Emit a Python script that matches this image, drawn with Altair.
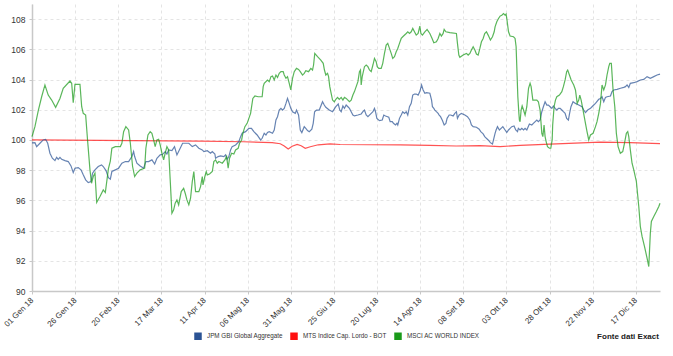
import altair as alt
import pandas as pd

series_names = ["JPM GBI Global Aggregate", "MTS Indice Cap. Lordo - BOT", "MSCI AC WORLD INDEX"]
series_colors = ["#2b5394", "#ff1010", "#1a9a1a"]
month_names = ["Gen", "Feb", "Mar", "Apr", "Mag", "Giu", "Lug", "Ago", "Set", "Ott", "Nov", "Dic"]
tick_dates = ["2018-01-01", "2018-01-26", "2018-02-20", "2018-03-17", "2018-04-11", "2018-05-06",
              "2018-05-31", "2018-06-25", "2018-07-20", "2018-08-14", "2018-09-08", "2018-10-03",
              "2018-10-28", "2018-11-22", "2018-12-17"]
y_ticks = [90, 92, 94, 96, 98, 100, 102, 104, 106, 108]
source_note = "Fonte dati Exact"

# day offsets from 01 Jan 2018 and index values
jpm_day = [0, 1.7, 2.7, 4.6, 6.5, 7.9, 9.1, 10.4, 11.8, 13.3, 14.3, 15.2, 16.2, 17.2, 19.1, 21.0, 22.6, 23.9, 24.9, 26.8,
           28.4, 29.7, 31.1, 32.6, 34.2, 35.1, 36.5, 38.4, 40.3, 41.3, 42.9, 44.3, 45.4, 46.3, 48.3, 50.2, 52.1, 54.1,
           56.0, 57.9, 58.9, 59.5, 60.8, 62.7, 64.7, 66.0, 67.6, 69.5, 71.1, 72.4, 74.3, 75.7, 77.2, 78.2, 79.2, 81.1,
           82.6, 84.0, 85.9, 87.3, 89.8, 90.9, 92.9, 94.8, 96.7, 98.7, 99.6, 101.6, 103.5, 104.5, 106.0, 106.4, 107.9,
           109.3, 111.2, 112.2, 113.1, 114.1, 115.1, 116.0, 118.0, 119.9, 120.9, 121.8, 123.8, 125.7, 127.2, 128.6,
           130.5, 132.5, 133.4, 134.6, 135.6, 136.5, 137.5, 139.4, 140.4, 141.4, 142.3, 143.3, 144.3, 145.2, 146.2,
           147.2, 148.1, 149.1, 150.0, 151.0, 152.6, 153.3, 154.5, 155.5, 156.4, 157.8, 158.7, 159.7, 160.7, 162.2,
           163.0, 163.8, 164.9, 166.5, 168.4, 169.4, 170.3, 172.3, 174.2, 176.1, 177.5, 178.4, 179.2, 180.2, 181.1,
           182.1, 183.1, 184.0, 185.0, 186.0, 186.9, 188.9, 190.8, 191.8, 192.7, 193.7, 194.7, 196.6, 197.6, 198.5,
           199.1, 199.9, 201.4, 203.0, 203.9, 204.9, 206.8, 207.6, 208.8, 209.5, 210.7, 211.5, 212.0, 213.0, 214.0,
           214.9, 215.9, 216.9, 217.8, 218.8, 219.8, 220.7, 221.7, 222.7, 223.8, 224.8, 225.8, 226.7, 227.7, 228.7,
           230.6, 231.6, 232.1, 232.9, 233.5, 234.4, 235.4, 236.0, 236.8, 237.9, 238.9, 239.9, 240.6, 241.8, 242.6,
           244.1, 245.1, 246.0, 246.6, 247.6, 248.9, 250.9, 252.4, 253.8, 254.7, 255.7, 257.6, 259.2, 260.1, 261.5,
           262.4, 264.4, 265.7, 266.9, 267.7, 268.4, 269.0, 269.8, 270.9, 271.9, 272.9, 274.2, 275.2, 276.2, 277.1,
           278.1, 279.4, 280.4, 281.4, 281.9, 282.9, 283.9, 284.9, 285.8, 286.8, 287.8, 288.3, 289.7, 290.6, 292.6,
           293.5, 294.5, 295.5, 296.4, 297.4, 298.4, 299.3, 300.3, 301.3, 302.2, 303.2, 304.2, 305.1, 306.1, 307.1,
           308.0, 309.0, 309.9, 310.9, 311.6, 312.4, 313.6, 315.0, 316.9, 318.8, 319.8, 320.8, 322.1, 323.7, 324.6,
           325.6, 326.6, 328.5, 329.5, 330.4, 331.4, 332.4, 333.3, 335.3, 336.2, 337.2, 339.1, 341.1, 343.0, 344.0,
           344.9, 345.9, 346.8, 348.8, 350.7, 352.6, 354.6, 356.5, 358.4, 360.4, 362.3, 364.0]
jpm_val = [99.8, 99.82, 99.56, 99.78, 100.0, 100.04, 99.78, 99.12, 98.79, 98.63, 98.85, 98.72, 98.85, 98.72, 98.63,
           98.57, 98.28, 97.84, 98.13, 98.17, 98.02, 97.69, 97.36, 97.18, 97.24, 97.80, 98.02, 98.24, 98.35, 98.24,
           97.97, 97.5, 97.4, 97.91, 98.02, 98.13, 98.46, 98.57, 98.57, 98.90, 99.23, 98.90, 98.46, 98.28, 98.13,
           98.57, 98.57, 98.68, 98.41, 98.79, 99.01, 99.05, 99.23, 99.07, 99.34, 99.29, 99.56, 99.01, 99.45, 99.78,
           99.78, 99.78, 99.56, 99.67, 99.45, 99.34, 99.23, 99.29, 99.12, 99.23, 99.07, 98.79, 98.90, 98.94, 98.90,
           99.01, 98.72, 98.90, 99.34, 99.56, 99.67, 99.89, 100.22, 100.44, 100.55, 100.77, 100.77, 100.55, 100.33,
           100.0, 100.11, 100.44, 100.33, 100.49, 100.55, 100.44, 100.66, 101.32, 101.54, 101.98, 102.09, 101.98,
           102.09, 102.42, 102.75, 102.42, 102.09, 101.87, 101.76, 101.98, 101.65, 100.66, 100.49, 100.88, 100.77,
           100.62, 100.55, 100.71, 101.10, 101.87, 101.98, 101.98, 102.53, 102.31, 102.16, 101.98, 101.87, 102.20,
           102.38, 101.98, 101.87, 102.25, 102.09, 102.31, 102.20, 102.09, 101.87, 101.65, 101.59, 101.65, 101.72,
           101.87, 101.98, 101.65, 101.54, 101.76, 101.87, 102.09, 101.87, 101.43, 101.28, 101.32, 101.65, 101.59,
           101.50, 101.21, 101.21, 101.10, 100.99, 101.10, 100.99, 101.43, 101.65, 101.87, 101.76, 101.87, 101.65,
           102.20, 102.42, 102.97, 103.04, 103.04, 102.97, 103.20, 103.64, 103.31, 103.09, 103.13, 103.09, 102.64,
           102.20, 102.09, 101.98, 101.87, 101.76, 101.65, 101.54, 101.28, 100.99, 101.10, 101.43, 101.65, 101.65,
           101.59, 101.76, 101.87, 101.43, 101.65, 101.76, 101.65, 101.54, 101.32, 100.99, 100.88, 100.84, 100.71,
           100.55, 100.40, 100.22, 100.0, 99.82, 99.73, 100.11, 100.44, 100.66, 100.88, 100.66, 100.77, 100.88,
           100.66, 100.49, 100.66, 100.77, 100.88, 100.93, 100.66, 100.55, 100.77, 100.66, 100.77, 100.66, 100.77,
           100.66, 100.93, 101.06, 100.99, 101.10, 101.32, 101.21, 101.32, 101.87, 102.20, 102.53, 102.31, 102.31,
           102.20, 102.09, 102.25, 102.09, 101.98, 102.09, 102.09, 101.98, 101.87, 101.76, 101.43, 101.32, 101.76,
           102.20, 102.53, 102.42, 102.31, 102.20, 101.98, 101.81, 101.98, 102.09, 102.20, 102.31, 102.42, 102.69,
           102.75, 102.86, 102.53, 102.82, 102.86, 102.91, 103.20, 103.31, 103.35, 103.42, 103.48, 103.53, 103.64,
           103.48, 103.75, 103.79, 103.86, 103.97, 104.01, 104.19, 104.08, 104.19, 104.30, 104.36]

mts_day = [0, 39.6, 97.5, 122.4, 139.2, 143.9, 146.2, 148.5, 150.8, 153.7, 156.0, 158.4, 161.3, 165.9, 172.8, 178.6,
           213.4, 230.7, 245.8, 259.7, 271.3, 282.9, 300.3, 329.3, 346.7, 364.0]
mts_val = [100.0, 99.97, 99.92, 99.88, 99.82, 99.75, 99.6, 99.4, 99.58, 99.7, 99.62, 99.45, 99.55, 99.68, 99.74, 99.7,
           99.68, 99.64, 99.6, 99.63, 99.56, 99.64, 99.72, 99.85, 99.82, 99.75]

msci_day = [0, 1.7, 3.7, 5.6, 7.5, 9.4, 11.4, 13.7, 16.2, 18.1, 22.0, 23.0, 23.9, 24.9, 27.8, 28.8, 29.7, 31.1, 32.2,
            33.6, 34.5, 35.5, 36.5, 37.5, 39.4, 41.3, 42.5, 44.3, 45.4, 46.3, 48.3, 51.2, 52.1, 53.1, 54.4, 56.0, 57.0,
            58.3, 59.5, 60.8, 62.7, 65.3, 66.0, 67.2, 68.5, 69.5, 70.5, 71.4, 72.4, 73.4, 74.3, 75.3, 76.3, 77.2, 78.2,
            79.2, 80.1, 81.1, 82.1, 83.0, 84.0, 85.0, 86.5, 87.9, 88.8, 89.8, 90.9, 91.9, 92.9, 93.8, 94.8, 96.7, 97.7,
            98.7, 99.1, 100.2, 101.0, 101.6, 102.9, 104.5, 105.4, 106.4, 107.4, 108.3, 110.3, 111.8, 112.8, 113.7,
            114.5, 115.7, 117.0, 118.0, 119.5, 120.3, 121.5, 122.2, 123.4, 124.7, 126.7, 128.0, 129.2, 131.1, 133.4,
            134.0, 134.6, 136.5, 137.5, 138.5, 139.4, 140.4, 141.4, 142.3, 143.3, 144.3, 145.6, 146.2, 147.2, 148.1,
            149.1, 150.0, 151.0, 152.0, 153.3, 154.5, 155.5, 156.8, 157.8, 158.7, 160.3, 161.6, 162.6, 163.2, 163.9,
            165.5, 167.4, 168.8, 169.5, 170.3, 171.3, 171.9, 172.6, 173.4, 174.2, 175.2, 176.1, 177.1, 178.1, 179.2,
            180.2, 181.1, 182.1, 183.1, 184.0, 185.0, 186.0, 186.9, 187.9, 188.9, 189.8, 190.4, 190.8, 191.4, 192.7,
            193.7, 194.7, 195.6, 196.6, 197.6, 198.5, 199.5, 200.1, 201.0, 202.4, 203.3, 204.3, 205.3, 206.2, 207.2,
            208.2, 209.1, 210.1, 211.1, 212.0, 213.0, 214.0, 214.9, 216.9, 217.8, 218.8, 219.8, 220.7, 221.7, 222.7,
            223.8, 224.8, 225.4, 226.3, 227.7, 229.0, 230.6, 231.9, 232.9, 234.4, 235.4, 236.4, 237.3, 238.3, 238.9,
            239.9, 242.2, 246.0, 246.6, 247.4, 248.0, 249.9, 251.8, 252.8, 253.8, 254.7, 255.7, 256.7, 257.6, 258.6,
            259.6, 260.5, 261.5, 262.4, 263.4, 264.4, 265.7, 266.9, 267.9, 268.4, 269.4, 270.4, 271.3, 272.3, 273.3,
            274.2, 274.8, 275.2, 276.2, 277.1, 279.1, 280.0, 280.6, 281.0, 281.6, 282.2, 282.5, 282.9, 283.5, 284.1,
            284.9, 285.8, 286.8, 287.8, 288.7, 289.3, 290.3, 292.6, 293.5, 294.5, 295.5, 296.1, 296.8, 297.4, 298.0,
            298.8, 299.9, 300.7, 301.5, 301.8, 302.6, 303.4, 304.2, 305.7, 307.1, 308.0, 309.0, 309.9, 310.5, 311.5,
            312.5, 314.0, 315.0, 316.0, 316.9, 317.5, 318.3, 319.4, 320.8, 321.7, 322.7, 323.7, 325.2, 326.6, 327.5,
            328.5, 329.5, 330.4, 331.4, 332.4, 333.3, 334.3, 334.9, 335.8, 336.8, 337.8, 338.7, 339.7, 341.0, 342.4,
            343.4, 344.5, 345.3, 345.9, 346.8, 347.8, 348.8, 350.3, 351.7, 352.6, 353.6, 355.0, 356.5, 357.5, 358.4,
            359.0, 360.4, 361.9, 363.3, 364.0]
msci_val = [100.22, 100.88, 101.98, 102.86, 103.64, 102.97, 102.64, 102.16, 102.75, 103.42, 103.90, 103.75, 102.47,
            103.68, 103.68, 102.20, 101.76, 101.65, 100.0, 98.02, 97.13, 97.58, 97.80, 95.86, 96.26, 96.69, 96.52,
            98.1, 98.6, 99.45, 99.56, 99.56, 99.78, 100.55, 100.88, 100.66, 99.78, 98.24, 97.58, 97.80, 98.02, 98.13,
            99.45, 100.33, 100.55, 100.44, 100.0, 99.56, 100.0, 100.04, 99.67, 99.12, 98.68, 99.12, 99.56, 99.34,
            97.36, 95.15, 95.37, 95.81, 96.03, 95.70, 96.58, 96.80, 96.47, 96.03, 95.70, 96.14, 97.24, 97.91, 96.58,
            96.58, 96.91, 97.58, 97.02, 97.58, 97.91, 97.69, 97.75, 97.91, 98.57, 98.68, 98.46, 98.57, 98.46, 98.68,
            98.90, 98.13, 98.79, 99.12, 99.07, 99.34, 99.45, 99.78, 100.0, 100.44, 100.88, 101.10, 101.76, 102.75,
            102.91, 102.86, 102.86, 103.53, 103.75, 103.97, 103.86, 104.19, 104.23, 103.97, 104.30, 104.14, 104.41,
            104.52, 104.52, 104.30, 104.08, 104.19, 103.75, 103.31, 104.08, 104.52, 104.74, 104.67, 104.52, 104.30,
            104.41, 104.58, 104.52, 104.74, 104.63, 104.96, 105.73, 105.51, 105.29, 105.07, 104.63, 104.30, 104.41,
            104.19, 103.53, 103.09, 102.64, 102.53, 102.69, 102.82, 102.69, 102.82, 102.64, 102.82, 102.75, 102.64,
            102.53, 102.64, 102.97, 103.20, 103.53, 103.86, 104.52, 104.63, 103.64, 104.19, 104.85, 104.96, 104.85,
            104.63, 104.52, 104.96, 105.40, 105.18, 104.85, 104.74, 104.74, 105.07, 105.73, 106.28, 106.39, 106.06,
            105.73, 105.40, 105.51, 105.84, 106.06, 106.39, 106.72, 106.83, 107.05, 107.16, 107.05, 107.16, 107.38,
            107.16, 106.94, 107.05, 107.54, 107.05, 106.94, 107.16, 107.32, 107.05, 106.72, 106.43, 106.50, 106.72,
            107.05, 106.88, 107.05, 107.32, 107.16, 107.10, 107.05, 106.39, 105.62, 105.47, 105.62, 105.73, 105.62,
            105.73, 105.95, 106.17, 105.95, 105.69, 105.62, 106.06, 106.50, 106.72, 107.05, 107.16, 106.94, 106.61,
            106.83, 107.16, 107.49, 107.82, 108.04, 108.20, 108.26, 108.37, 108.26, 108.33, 108.04, 107.16, 106.88,
            106.83, 106.72, 106.17, 104.85, 102.86, 101.76, 101.32, 101.21, 101.98, 102.25, 101.98, 101.65, 102.20,
            103.42, 103.75, 103.53, 102.64, 102.64, 102.53, 101.98, 100.44, 100.22, 100.99, 100.22, 99.89, 99.56,
            99.45, 99.45, 100.0, 100.99, 102.20, 102.64, 102.86, 102.97, 103.20, 103.53, 103.97, 104.52, 104.63,
            104.30, 103.97, 103.64, 103.31, 102.42, 102.64, 102.97, 102.64, 101.98, 101.10, 100.55, 100.0, 100.33,
            100.44, 100.88, 101.21, 101.76, 102.42, 103.64, 103.31, 103.64, 104.30, 104.85, 105.07, 105.07, 103.31,
            102.20, 100.44, 99.56, 99.12, 99.23, 99.78, 100.44, 100.55, 100.22, 99.34, 98.46, 98.02, 97.25, 95.59,
            94.27, 93.61, 92.95, 92.18, 91.62, 93.83, 94.61, 94.93, 95.26, 95.59, 95.81]

base = pd.Timestamp("2018-01-01")
frames = []
for name, days, vals in [(series_names[1], mts_day, mts_val),
                         (series_names[0], jpm_day, jpm_val),
                         (series_names[2], msci_day, msci_val)]:
    frames.append(pd.DataFrame({
        "date": base + pd.to_timedelta(days, unit="D"),
        "value": vals,
        "serie": name,
    }))
df = pd.concat(frames, ignore_index=True)

def dt(s):
    y, m, d = (int(p) for p in s.split("-"))
    return alt.DateTime(year=y, month=m, date=d)

months_js = "[" + ",".join("'%s'" % m for m in month_names) + "]"
label_expr = ("timeFormat(datum.value, '%d') + ' ' + " + months_js +
              "[month(datum.value)] + ' ' + timeFormat(datum.value, '%y')")

lines = alt.Chart(df).mark_line(strokeWidth=1.2, strokeOpacity=0.72, interpolate="linear").encode(
    x=alt.X("date:T",
            scale=alt.Scale(domain=[dt("2018-01-01"), dt("2018-12-31")], nice=False),
            axis=alt.Axis(values=[dt(s) for s in tick_dates], labelExpr=label_expr, title=None,
                          labelAngle=-45, labelAlign="right", labelBaseline="middle",
                          labelPadding=5, tickSize=3, grid=True, labelFontSize=8)),
    y=alt.Y("value:Q", scale=alt.Scale(domain=[90, 109], nice=False, zero=False),
            axis=alt.Axis(values=y_ticks, title=None, tickSize=3, labelPadding=4, grid=True)),
    color=alt.Color("serie:N",
                    scale=alt.Scale(domain=series_names, range=series_colors),
                    legend=alt.Legend(title=None, orient="none", direction="horizontal",
                                      legendX=162, legendY=328, symbolType="square",
                                      symbolSize=9, symbolStrokeWidth=4.5, symbolOpacity=1,
                                      labelFontSize=6.3, labelFont="Liberation Sans",
                                      labelColor="#333333", labelOffset=5, columnPadding=0,
                                      padding=0)),
    detail="serie:N",
)

note = alt.Chart(pd.DataFrame({"t": [source_note]})).mark_text(
    fontSize=8, fontWeight="bold", font="Liberation Sans", color="#222222", align="center"
).encode(text="t:N", x=alt.value(596), y=alt.value(333))

chart = alt.layer(lines, note).properties(
    width=628, height=287,
    autosize=alt.AutoSizeParams(type="none"),
    padding={"left": 32, "top": 4, "right": 13, "bottom": 65},
).configure_view(stroke=None).configure_axis(
    labelFont="Liberation Sans", labelFontSize=8.5, labelColor="#333333",
    domainColor="#c8c8c8", domainWidth=1.5, tickColor="#c8c8c8",
    gridColor="#e4e4e4", gridDash=[3, 3], gridWidth=1,
)

chart.save("out.html", embed_options={"renderer": "svg", "actions": False})
